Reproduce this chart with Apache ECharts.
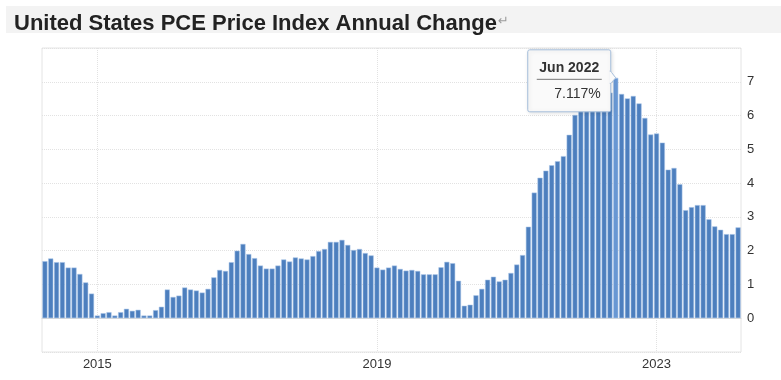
<!DOCTYPE html>
<html><head><meta charset="utf-8">
<script src="https://cdn.jsdelivr.net/npm/echarts@6/dist/echarts.min.js"></script>
<style>html,body{margin:0;padding:0;background:#fff;}#c{width:781px;height:380px;}</style>
</head><body><div id="c"></div>
<script>
const titleText = 'United States PCE Price Index Annual Change';
const monthNames = ['Jan','Feb','Mar','Apr','May','Jun','Jul','Aug','Sep','Oct','Nov','Dec'];
const firstYear = 2014, firstMonth = 3;   // Apr 2014
const pce2014 = [1.69, 1.77, 1.66, 1.66, 1.50, 1.50, 1.31, 1.06, 0.73];
const pce2015 = [0.08, 0.15, 0.18, 0.08, 0.18, 0.28, 0.22, 0.25, 0.08, 0.08, 0.24, 0.34];
const pce2016 = [0.85, 0.63, 0.67, 0.91, 0.85, 0.82, 0.76, 0.87, 1.21, 1.43, 1.40, 1.66];
const pce2017 = [2.00, 2.20, 1.90, 1.78, 1.56, 1.47, 1.47, 1.56, 1.74, 1.68, 1.80, 1.77];
const pce2018 = [1.74, 1.84, 1.99, 2.05, 2.26, 2.26, 2.32, 2.17, 2.02, 2.05, 1.93, 1.86];
const pce2019 = [1.50, 1.44, 1.50, 1.56, 1.46, 1.41, 1.43, 1.40, 1.30, 1.30, 1.30, 1.51];
const pce2020 = [1.67, 1.63, 1.11, 0.37, 0.40, 0.68, 0.87, 1.14, 1.23, 1.09, 1.14, 1.34];
const pce2021 = [1.59, 1.87, 2.71, 3.72, 4.16, 4.37, 4.53, 4.65, 4.80, 5.43, 6.02, 6.15];
const pce2022 = [6.35, 6.75, 6.90, 6.55, 6.68, 7.117, 6.64, 6.51, 6.58, 6.36, 5.93, 5.44];
const pce2023 = [5.47, 5.20, 4.40, 4.45, 3.97, 3.20, 3.29, 3.35, 3.35, 2.93, 2.72, 2.62];
const pce2024 = [2.49, 2.49, 2.69];
const xTickLabels = ['2015', '2019', '2023'];
const yTickLabels = ['0', '1', '2', '3', '4', '5', '6', '7'];
const tipMonth = 'Jun 2022';
const tipText = '7.117%';

const values = [].concat(pce2014, pce2015, pce2016, pce2017, pce2018, pce2019, pce2020, pce2021, pce2022, pce2023, pce2024);
const categories = values.map((_, i) => {
  const m = firstMonth + i;
  return monthNames[m % 12] + ' ' + (firstYear + Math.floor(m / 12));
});
const tipIndex = categories.indexOf(tipMonth);

const showYear = (i, v) => v.startsWith('Jan ') && xTickLabels.includes(v.slice(4));
const FONT = 'Liberation Sans, Arial, sans-serif';

const chart = echarts.init(document.getElementById('c'), null, {renderer: 'canvas'});
chart.setOption({
  animation: false,
  backgroundColor: '#ffffff',
  title: {
    text: titleText + '{r|↵}',
    left: 9, top: 8,
    textStyle: {
      fontFamily: FONT, fontSize: 22, fontWeight: 'bold', color: '#222',
      rich: {r: {fontFamily: 'DejaVu Sans', fontSize: 13, color: '#9a9a9a', fontWeight: 'normal', padding: [0, 0, 4, 1]}}
    }
  },
  grid: {left: 42, right: 40, top: 48, bottom: 28, show: true, borderColor: '#e4e4e4', borderWidth: 1},
  xAxis: {
    type: 'category',
    data: categories,
    boundaryGap: true,
    axisLine: {show: true, lineStyle: {color: '#d8d8d8'}},
    axisTick: {show: false},
    axisLabel: {interval: showYear, formatter: v => v.slice(4), color: '#333', fontFamily: FONT, fontSize: 13, margin: 6},
    splitLine: {show: true, interval: showYear, alignWithLabel: true, lineStyle: {color: '#e2e2e2', type: 'dotted'}}
  },
  yAxis: {
    type: 'value',
    position: 'right',
    min: -1, max: 8, interval: 1,
    axisLine: {show: false},
    axisTick: {show: false},
    axisLabel: {formatter: v => yTickLabels.includes(String(v)) ? String(v) : '', color: '#333', fontFamily: FONT, fontSize: 13, margin: 6},
    splitLine: {show: true, lineStyle: {color: '#e2e2e2', type: 'dotted'}}
  },
  series: [{
    type: 'bar',
    barCategoryGap: '12%',
    data: values.map((v, i) => i === tipIndex ? {value: v, itemStyle: {color: '#6897d3'}} : v),
    itemStyle: {color: '#4d7fbe', borderColor: 'rgba(170,198,232,0.9)', borderWidth: 0.6}
  }]
});

const [px, py] = chart.convertToPixel({xAxisIndex: 0, yAxisIndex: 0}, [tipMonth, values[tipIndex]]);
const bw = 83, bh = 62;
const bx = px - 5 - bw, by = py - 28;
chart.setOption({
  graphic: [
    {type: 'rect', z: -10, silent: true, shape: {x: 6, y: 6, width: 775, height: 27}, style: {fill: '#f3f3f3'}},
    {type: 'rect', z: 200, zlevel: 1, shape: {x: bx, y: by, width: bw, height: bh, r: 2},
      style: {fill: '#fafafa', stroke: '#a5bedb', lineWidth: 1, shadowBlur: 4, shadowColor: 'rgba(0,0,0,0.12)', shadowOffsetX: 1, shadowOffsetY: 1}},
    {type: 'polygon', z: 201, zlevel: 1, shape: {points: [[bx + bw - 0.5, py - 7], [px, py], [bx + bw - 0.5, py + 6]]},
      style: {fill: '#fafafa', stroke: '#a5bedb', lineWidth: 1}},
    {type: 'rect', z: 202, zlevel: 1, shape: {x: bx + bw - 1.5, y: py - 6, width: 2, height: 11}, style: {fill: '#fafafa'}},
    {type: 'text', z: 203, zlevel: 1, style: {text: tipMonth, x: bx + bw / 2, y: by + 18, align: 'center', verticalAlign: 'middle',
      font: 'bold 14px ' + FONT, fill: '#333'}},
    {type: 'line', z: 203, zlevel: 1, shape: {x1: bx + 9, y1: by + 29.5, x2: bx + bw - 9, y2: by + 29.5}, style: {stroke: '#777', lineWidth: 1}},
    {type: 'text', z: 203, zlevel: 1, style: {text: tipText, x: bx + bw - 10, y: by + 44, align: 'right', verticalAlign: 'middle',
      font: '14px ' + FONT, fill: '#333'}}
  ]
});
</script>
</body></html>
